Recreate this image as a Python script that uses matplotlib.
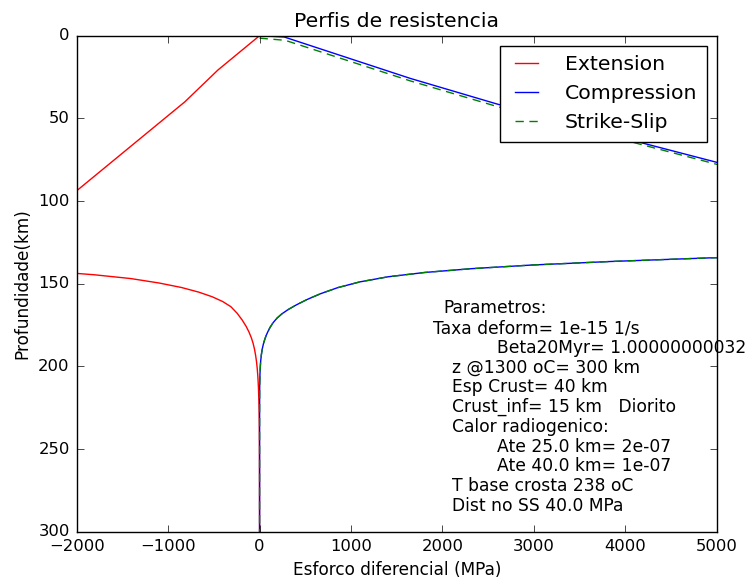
import matplotlib
matplotlib.use("Agg")
import matplotlib.pyplot as plt

# ramo fragil (superior)
ext_fragil_sigma = [0, -456, -817, -2000, -2300]
ext_fragil_z = [0, 20.8, 40.0, 93.8, 107.5]
comp_fragil_sigma = [0, 270, 1646, 2595, 4200, 5000, 5500]
comp_fragil_z = [0, 0.8, 25.8, 41.3, 65.1, 76.6, 83.8]
ss_fragil_sigma = [0, 280, 1646, 2595, 4200, 5000, 5500]
ss_fragil_z = [1.5, 2.8, 27.3, 42.8, 66.2, 77.8, 85.0]

# ramo ductil (inferior)
ext_ductil_sigma = [-2322, -1808, -1408, -1097, -854, -665, -518, -403, -314, -245, -191,
                    -148, -116, -90, -70, -54.6, -42.5, -33.1, -25.8, -20.1, -15.6, -12.2,
                    -7.4, -4.5, -2.7, -1.0, -0.4, 0]
ext_ductil_z = [142.4, 144.6, 146.9, 149.6, 152.3, 155.1, 157.9, 160.8, 163.9, 167.9, 171.9,
                175.7, 179.2, 182.7, 186.2, 189.8, 193.6, 197.3, 201.2, 205.1, 209.1, 213.1,
                221.0, 229.0, 237.0, 255.0, 275.0, 300.0]
comp_ductil_sigma = [6310, 4915, 3827, 2981, 2322, 1808, 1408, 1097, 854, 665, 518, 403, 314,
                     245, 191, 148, 116, 90, 70, 54.6, 42.5, 33.1, 25.8, 20.1, 12.2, 7.4, 4.5,
                     2.7, 1.65, 1.0, 0.5, 0.2, 0]
comp_ductil_z = [132.3, 134.4, 136.6, 138.7, 140.9, 143.2, 145.8, 148.9, 152.4, 156.1, 159.6,
                 162.8, 165.6, 168.2, 170.8, 173.6, 176.3, 179.1, 181.6, 184.1, 186.3, 188.6,
                 190.7, 192.8, 196.8, 200.8, 204.6, 208.3, 212.1, 215.8, 225.0, 250.0, 300.0]
ss_ductil_sigma = comp_ductil_sigma
ss_ductil_z = comp_ductil_z

param_lines = ["Parametros:", "Taxa deform= 1e-15 1/s", "Beta20Myr= 1.00000000032",
               "z @1300 oC= 300 km", "Esp Crust= 40 km", "Crust_inf= 15 km   Diorito",
               "Calor radiogenico:", "Ate 25.0 km= 2e-07", "Ate 40.0 km= 1e-07",
               "T base crosta 238 oC", "Dist no SS 40.0 MPa"]
param_indent = [0.573, 0.557, 0.656, 0.586, 0.586, 0.586, 0.586, 0.656, 0.656, 0.586, 0.586]

plt.style.use("classic")
plt.rcParams["savefig.facecolor"] = "white"

fig = plt.figure(figsize=(7.46, 5.82), dpi=100, facecolor="white")
ax = fig.add_axes([0.1028, 0.0864, 0.858, 0.8523])

tracejado = (6, 4)
ax.plot(ext_fragil_sigma, ext_fragil_z, "r-", lw=1, label="Extension")
ax.plot(ext_ductil_sigma, ext_ductil_z, "r-", lw=1)
ax.plot(comp_fragil_sigma, comp_fragil_z, "b-", lw=1, label="Compression")
ax.plot(comp_ductil_sigma, comp_ductil_z, "b-", lw=1)
ax.plot(ss_fragil_sigma, ss_fragil_z, "g--", lw=1, dashes=tracejado, label="Strike-Slip")
ax.plot(ss_ductil_sigma, ss_ductil_z, "g--", lw=1, dashes=tracejado)

ax.set_xlim(-2000, 5000)
ax.set_ylim(300, 0)
ax.set_xticks(range(-2000, 5001, 1000))
ax.set_yticks(range(0, 301, 50))
ax.tick_params(labelsize=11.8, direction="in", top=True, right=True, length=5, pad=5)

ax.set_title("Perfis de resistencia", fontsize=14.7, pad=6)
ax.set_xlabel("Esforco diferencial (MPa)", fontsize=12.2)
ax.set_ylabel("Profundidade(km)", fontsize=12.2)

y0 = 0.450
for i, (txt, xi) in enumerate(zip(param_lines, param_indent)):
    ax.text(xi, y0 - i * 0.0398, txt, transform=ax.transAxes, fontsize=12.3,
            ha="left", va="center")

leg = ax.legend(loc="upper right", fontsize=14.7, handlelength=1.75, handletextpad=1.0,
                labelspacing=0.5, borderpad=0.45, borderaxespad=0.5, fancybox=False)
leg.get_frame().set_edgecolor("black")

fig.savefig("out.png", dpi=100, facecolor="white")
